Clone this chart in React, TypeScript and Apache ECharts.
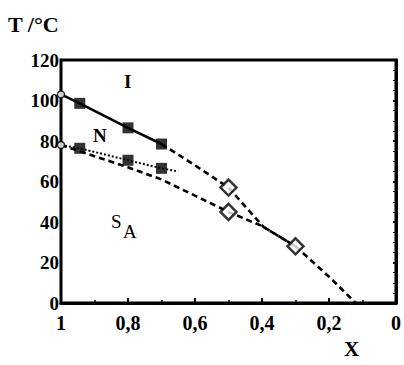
import React, { useEffect, useRef } from "react";
import * as echarts from "echarts";

// I–N transition (upper curve)
const niX = [1, 0.944, 0.8, 0.7];
const niT = [103, 98.6, 86.5, 78.5];
const niDashX = [0.7, 0.6, 0.5, 0.395, 0.3, 0.2, 0.12];
const niDashT = [78.5, 68, 57, 37.5, 28, 13, 0];
// N–SA transition (dotted)
const nsX = [1, 0.944, 0.8, 0.7, 0.65];
const nsT = [78, 76.4, 70.5, 66.5, 65];
// SA boundary (lower dashed curve)
const saX = [1, 0.9, 0.8, 0.7, 0.6, 0.5, 0.4, 0.3];
const saT = [78, 72.5, 67, 61, 53, 45, 38, 28];
// markers
const circleX = [1, 1];
const circleT = [103, 78];
const squareX = [0.944, 0.8, 0.7, 0.944, 0.8, 0.7];
const squareT = [98.6, 86.5, 78.5, 76.4, 70.5, 66.5];
const diamondX = [0.5, 0.5, 0.3];
const diamondT = [57, 45, 28];

const zip = (xs: number[], ys: number[]) => xs.map((x, i) => [x, ys[i]]);

const serif = "'Liberation Serif', 'Times New Roman', Times, 'DejaVu Serif', serif";

export default function App() {
  const ref = useRef<HTMLDivElement>(null);
  useEffect(() => {
    const chart = echarts.init(ref.current!, null, { renderer: "svg" });
    const txt = (text: string, left: number, top: number, size: number, bold = true) => ({
      type: "text",
      left,
      top,
      style: { text, fontFamily: serif, fontSize: size, fontWeight: bold ? "bold" : "normal", fill: "#000" },
    });
    chart.setOption({
      animation: false,
      backgroundColor: "#fff",
      grid: {
        left: 61,
        right: 3,
        top: 60,
        bottom: 62,
        show: true,
        borderColor: "#000",
        borderWidth: 3,
      },
      xAxis: {
        type: "value",
        min: 0,
        max: 1,
        interval: 0.2,
        inverse: true,
        axisLine: { lineStyle: { color: "#000", width: 3 } },
        axisTick: { inside: true, length: 5, lineStyle: { color: "#000", width: 2 } },
        minorTick: { show: true, splitNumber: 2, length: 3, lineStyle: { color: "#000", width: 1.5 } },
        splitLine: { show: false },
        axisLabel: {
          color: "#000",
          fontFamily: serif,
          fontSize: 20,
          fontWeight: "bold",
          margin: 10,
          formatter: (v: number) => String(+v.toFixed(1)).replace(".", ","),
        },
      },
      yAxis: {
        type: "value",
        min: 0,
        max: 120,
        interval: 20,
        axisLine: { lineStyle: { color: "#000", width: 3 } },
        axisTick: { inside: false, length: 3, lineStyle: { color: "#000", width: 2 } },
        minorTick: { show: true, splitNumber: 4, length: 3, lineStyle: { color: "#000", width: 1 } },
        splitLine: { show: false },
        axisLabel: {
          color: "#000",
          fontFamily: serif,
          fontSize: 19,
          fontWeight: "bold",
          margin: 2,
        },
      },
      graphic: [
        txt("T /°C", 8, 13, 22),
        txt("X", 344, 338, 21),
        txt("I", 124, 72, 19),
        txt("N", 93, 126, 19),
        txt("S", 111, 212, 19, false),
        txt("A", 123, 222, 19, false),
      ],
      series: [
        {
          type: "line",
          data: zip(niX, niT),
          showSymbol: false,
          lineStyle: { color: "#000", width: 2.6 },
        },
        {
          type: "line",
          data: zip(niDashX, niDashT),
          showSymbol: false,
          lineStyle: { color: "#000", width: 2.6, type: [6, 4] },
        },
        {
          type: "line",
          data: zip(nsX, nsT),
          showSymbol: false,
          lineStyle: { color: "#000", width: 2, type: [2, 2] },
        },
        {
          type: "line",
          data: zip(saX, saT),
          showSymbol: false,
          lineStyle: { color: "#000", width: 2.6, type: [6, 4] },
        },
        {
          type: "scatter",
          data: zip(squareX, squareT),
          symbol: "rect",
          symbolSize: 11,
          itemStyle: { color: "#000" },
          z: 5,
        },
        {
          type: "scatter",
          data: zip(diamondX, diamondT),
          symbol: "diamond",
          symbolSize: 16,
          itemStyle: { color: "#fff", borderColor: "#000", borderWidth: 2.5 },
          z: 5,
        },
        {
          type: "scatter",
          data: zip(circleX, circleT),
          symbol: "circle",
          symbolSize: 7,
          itemStyle: { color: "#fff", borderColor: "#000", borderWidth: 1.5 },
          z: 6,
        },
      ],
    });
    return () => chart.dispose();
  }, []);
  return <div ref={ref} style={{ width: 404, height: 365, position: "absolute", left: 0, top: 0 }} />;
}
